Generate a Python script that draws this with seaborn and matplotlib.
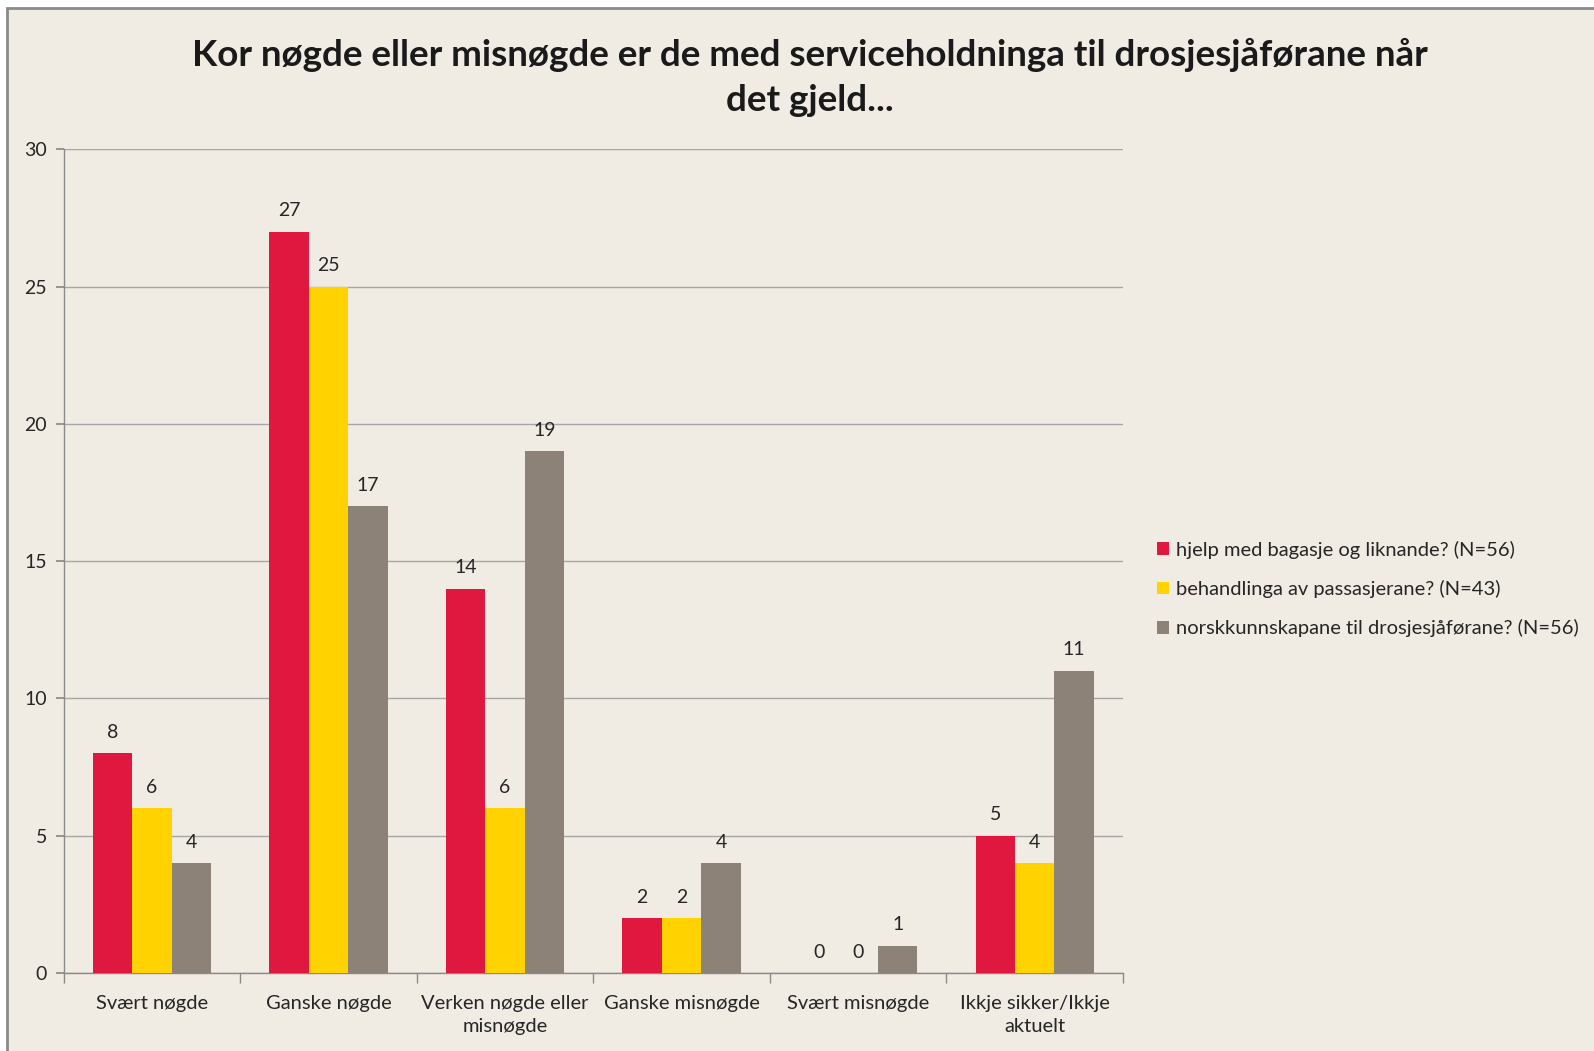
import matplotlib
matplotlib.use("Agg")
import matplotlib.pyplot as plt
import pandas as pd
import seaborn as sns
from matplotlib.patches import Rectangle

# Data
categories = ["Svært nøgde", "Ganske nøgde", "Verken nøgde eller\nmisnøgde",
              "Ganske misnøgde", "Svært misnøgde", "Ikkje sikker/Ikkje\naktuelt"]
series = ["hjelp med bagasje og liknande? (N=56)",
          "behandlinga av passasjerane? (N=43)",
          "norskkunnskapane til drosjesjåførane? (N=56)"]
hjelp = [8, 27, 14, 2, 0, 5]
behandling = [6, 25, 6, 2, 0, 4]
norsk = [4, 17, 19, 4, 1, 11]
colors = ["#E0173F", "#FFD200", "#8C8278"]

df = pd.DataFrame({"kategori": categories * 3,
                   "serie": [series[0]] * 6 + [series[1]] * 6 + [series[2]] * 6,
                   "antall": hjelp + behandling + norsk})

sns.set_theme(style="white")
plt.rcParams["font.family"] = ["Lato", "DejaVu Sans"]
bg = "#F0EBE3"
text_col = "#262626"

fig = plt.figure(figsize=(15.94, 10.51), dpi=100, facecolor="white")
fig.patches.append(Rectangle((7 / 1594, -0.01), 1.0, 1 - 8 / 1051 + 0.01,
                             transform=fig.transFigure, facecolor=bg,
                             edgecolor="#8A8A8A", linewidth=2, zorder=-10))
ax = fig.add_axes([0.040, 0.0742, 0.6645, 0.7838])
ax.set_facecolor(bg)

sns.barplot(data=df, x="kategori", y="antall", hue="serie", order=categories,
            hue_order=series, palette=colors, width=0.67, gap=0,
            saturation=1, linewidth=0, ax=ax, zorder=3)

for c in ax.containers:
    ax.bar_label(c, padding=9, fontsize=14, color=text_col)

ax.set_ylim(0, 30)
ax.set_yticks(range(0, 31, 5))
ax.set_xlim(-0.5, 5.5)
ax.grid(axis="y", color="#A6A6A6", linewidth=1, zorder=0)
for s in ["top", "right"]:
    ax.spines[s].set_visible(False)
for s in ["left", "bottom"]:
    ax.spines[s].set_color("#8A8A8A")
    ax.spines[s].set_linewidth(1)
ax.tick_params(axis="y", left=True, length=6, color="#8A8A8A", labelsize=14,
               labelcolor=text_col, pad=6)
ax.tick_params(axis="x", bottom=False, labelsize=14.5, labelcolor=text_col, pad=10)
for lbl in ax.get_xticklabels():
    lbl.set_linespacing(1.4)
ax.set_xticks([x - 0.5 for x in range(7)], minor=True)
ax.tick_params(axis="x", which="minor", bottom=True, length=7, color="#8A8A8A")
ax.set_xlabel("")
ax.set_ylabel("")

leg = ax.legend(loc="center left", bbox_to_anchor=(1.015, 0.466), frameon=False,
                fontsize=14.5, handlelength=0.6, handleheight=0.6,
                handletextpad=0.35, labelspacing=1.05, labelcolor=text_col)

fig.text(0.508, 0.926, "Kor nøgde eller misnøgde er de med serviceholdninga til drosjesjåførane når\ndet gjeld...",
         ha="center", va="center", fontsize=26.5, fontweight="bold",
         color="#1A1A1A", linespacing=1.45)

fig.savefig("out.png", dpi=100, facecolor=fig.get_facecolor())
